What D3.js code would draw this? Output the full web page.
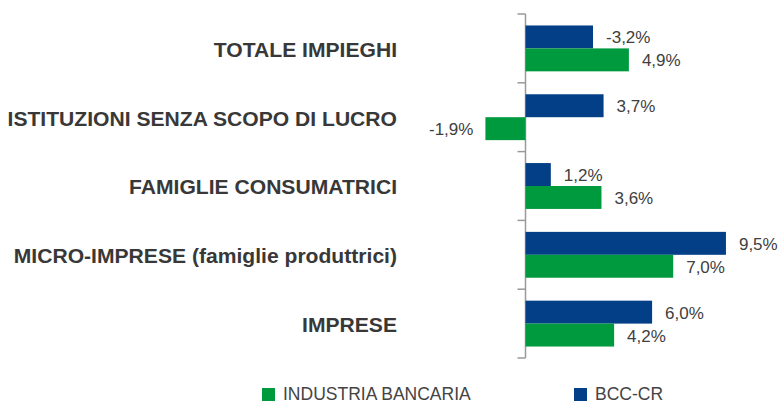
<!DOCTYPE html>
<html><head><meta charset="utf-8">
<script src="https://cdnjs.cloudflare.com/ajax/libs/d3/7.8.5/d3.min.js"></script>
<style>
html,body{margin:0;padding:0;background:#fff;}
svg{display:block;}
</style></head>
<body><svg id="c" width="782" height="402"></svg>
<script>
const categories = ["TOTALE IMPIEGHI","ISTITUZIONI SENZA SCOPO DI LUCRO","FAMIGLIE CONSUMATRICI","MICRO-IMPRESE (famiglie produttrici)","IMPRESE"];
const bccValues = [3.2, 3.7, 1.2, 9.5, 6.0];
const bccLabels = ["-3,2%","3,7%","1,2%","9,5%","6,0%"];
const industriaValues = [4.9, -1.9, 3.6, 7.0, 4.2];
const industriaLabels = ["4,9%","-1,9%","3,6%","7,0%","4,2%"];
const seriesNames = ["INDUSTRIA BANCARIA","BCC-CR"];
const colors = {bcc:"#023f87", ind:"#009a3e"};
const FONT = "'Liberation Sans', Arial, Helvetica, sans-serif";

const svg = d3.select("#c");
const x = d3.scaleLinear().domain([-2, 10]).range([483.3, 736.5]);
const y = d3.scaleBand().domain(categories).range([14, 358]).paddingInner(0).paddingOuter(0);
const inner = d3.scaleBand().domain(["bcc","ind"]).range([0, y.bandwidth()]).paddingOuter(0.5).paddingInner(0);

// axis
const ax = svg.append("g").attr("transform",`translate(${x(0)},0)`);
ax.append("line").attr("x1",0).attr("x2",0).attr("y1",14).attr("y2",358).attr("stroke","#9a9a9a").attr("stroke-width",1.5);
const tickYs = categories.map(c=>y(c)).concat([y.range()[1]]);
ax.selectAll("line.tk").data(tickYs).join("line").attr("class","tk")
  .attr("x1",-8).attr("x2",0).attr("y1",d=>d).attr("y2",d=>d).attr("stroke","#9a9a9a").attr("stroke-width",1.5);

// category labels
svg.append("g").selectAll("text").data(categories).join("text")
  .attr("x",397).attr("y",d=>y(d)+y.bandwidth()/2+1).attr("dy","0.35em")
  .attr("text-anchor","end").attr("font-family",FONT)
  .attr("font-weight","bold").attr("font-size","21.1px").attr("fill","#383838").text(d=>d);

const bars = [];
categories.forEach((c,i)=>{
  bars.push({c, k:"bcc", v:bccValues[i], l:bccLabels[i]});
  bars.push({c, k:"ind", v:industriaValues[i], l:industriaLabels[i]});
});
svg.append("g").selectAll("rect").data(bars).join("rect")
  .attr("x",d=>x(Math.min(0,d.v))).attr("width",d=>Math.abs(x(d.v)-x(0)))
  .attr("y",d=>y(d.c)+inner(d.k)).attr("height",inner.bandwidth())
  .attr("fill",d=>colors[d.k]);
svg.append("g").selectAll("text").data(bars).join("text")
  .attr("x",d=>d.v>=0 ? x(d.v)+13 : x(d.v)-12)
  .attr("text-anchor",d=>d.v>=0?"start":"end")
  .attr("y",d=>y(d.c)+inner(d.k)+inner.bandwidth()/2+0.5).attr("dy","0.35em")
  .attr("font-family",FONT).attr("font-size","17px").attr("fill","#404040")
  .text(d=>d.l);

// legend
const leg = [{n:seriesNames[0], c:colors.ind, x:262},{n:seriesNames[1], c:colors.bcc, x:574}];
const lg = svg.append("g").selectAll("g").data(leg).join("g").attr("transform",d=>`translate(${d.x},388)`);
lg.append("rect").attr("width",13).attr("height",13).attr("fill",d=>d.c);
lg.append("text").attr("x",21).attr("y",6).attr("dy","0.36em")
  .attr("font-family",FONT).attr("font-size","17.5px").attr("fill","#444")
  .text(d=>d.n);
</script></body></html>
